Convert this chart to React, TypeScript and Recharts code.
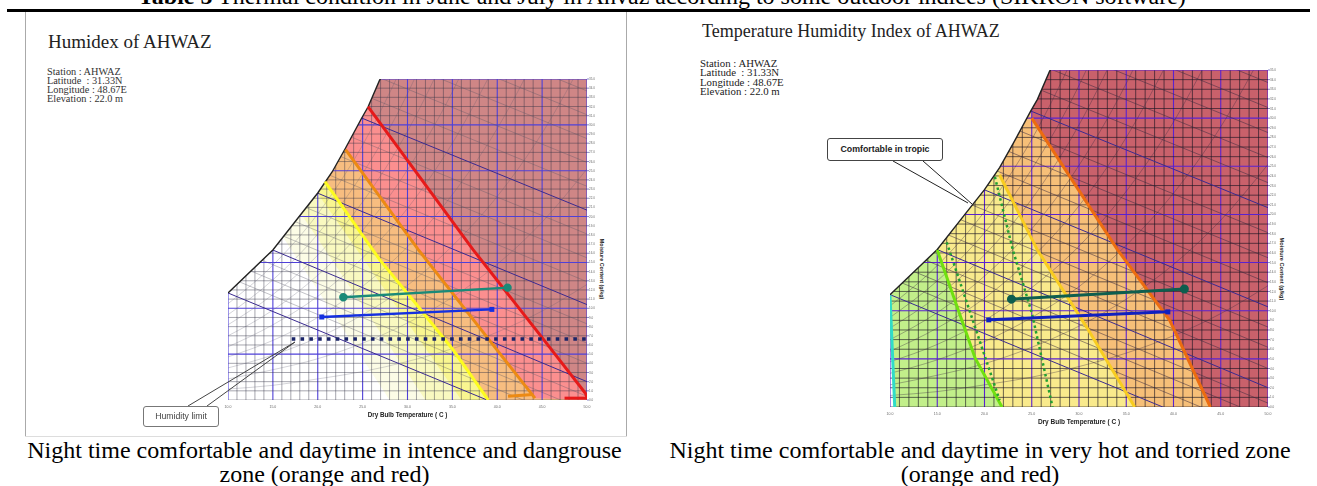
import { Area, ComposedChart, Line, XAxis, YAxis } from "recharts";

type Pt = { t: number; w: number };

const tempTicks = [10, 15, 20, 25, 30, 35, 40, 45, 50];
const moistureTicks = [
  0, 1, 2, 3, 4, 5, 6, 7, 8, 9, 10, 11, 12, 13, 14, 15, 16, 17, 18, 19, 20, 21, 22, 23, 24, 25, 26,
  27, 28, 29, 30, 31, 32, 33, 34, 35,
];
const tempGrid = [
  11, 12, 13, 14, 15, 16, 17, 18, 19, 20, 21, 22, 23, 24, 25, 26, 27, 28, 29, 30, 31, 32, 33, 34,
  35, 36, 37, 38, 39, 40, 41, 42, 43, 44, 45, 46, 47, 48, 49, 50,
];

// [temp, moisture]
const saturation: [number, number][] = [
  [10, 11.67], [15, 16.36], [17.8, 19.85], [20, 22.57], [21.6, 24.86],
  [23.1, 27.48], [24.9, 30.75], [25.6, 31.95], [26.9, 34.9], [27, 35],
];

// relative humidity curves, 10% to 90%, sampled at tempTicks
const rhCurves = [
  [1.2, 1.6, 2.3, 3.1, 4.2, 5.6, 7.4, 9.7, 12.6],
  [2.3, 3.3, 4.5, 6.2, 8.4, 11.2, 14.8, 19.4, 25.2],
  [3.5, 4.9, 6.8, 9.3, 12.5, 16.8, 22.2, 29.1, 37.8],
  [4.7, 6.5, 9, 12.4, 16.7, 22.4, 29.6, 38.8],
  [5.8, 8.2, 11.3, 15.5, 20.9, 28, 37],
  [7, 9.8, 13.6, 18.5, 25.1, 33.6, 44.4],
  [8.2, 11.5, 15.8, 21.6, 29.3, 39.2],
  [9.3, 13.1, 18.1, 24.7, 33.4, 44.8],
  [10.5, 14.7, 20.3, 27.8, 37.6],
];

// wet bulb lines: moisture at 10C and at 50C
const wetBulbMajor: [number, number][] = [
  [11.67, -4.5], [18.4, 2], [26.6, 10.4], [36.7, 20.7],
];
const wetBulbMinor: [number, number][] = [
  [13.4, -2.9], [15.1, -1.2], [16.8, 0.4],
  [20.4, 4], [22.5, 6.2], [24.5, 8.3],
  [29.1, 12.9], [31.6, 15.5], [34.2, 18.1],
  [39.3, 23.3], [41.9, 25.9], [44.5, 28.5], [47.1, 31.1], [49.7, 33.7],
];

const nightDayTeal: [number, number][] = [[22.85, 11.2], [41.15, 12.25]];
const nightDayBlue: [number, number][] = [[20.45, 9.05], [39.4, 9.88]];
const humidityLimit: [number, number][] = [[17.1, 6.65], [50, 6.65]];

// humidex zone boundaries
const hxPale1: [number, number][] = [[16.1, 17.8], [28, 0]];
const hxPale2: [number, number][] = [[18, 20.5], [32, 0]];
const hxPale3: [number, number][] = [[19.8, 22.8], [36, 0]];
const hxYellow: [number, number][] = [[20.8, 23.8], [26.9, 15.3], [30.6, 10.9], [35.1, 5.45], [39, 0]];
const hxOrange: [number, number][] = [[23.1, 27.3], [31.2, 16.4], [38.9, 6.8], [44.2, 0.2]];
const hxRed: [number, number][] = [[25.6, 32], [37.3, 16.4], [45, 6.8], [49.8, 0.76], [50, 0.3]];
const hxOrangeFoot: [number, number][] = [[41.2, 0.4], [44, 0.6]];
const hxRedFoot: [number, number][] = [[47.5, 0.2], [50, 0.2]];

// temperature humidity index boundaries
const thiCyan: [number, number][] = [[10, 11.6], [10.5, 0]];
const thiGreen: [number, number][] = [[15, 16.3], [19, 5.1], [21.85, 0]];
const thiDotted1: [number, number][] = [[16, 17.1], [19, 8.3], [21.6, 0.7]];
const thiDotted2: [number, number][] = [[21.1, 23.9], [23, 16.3], [25, 9.8], [27.2, 0]];
const thiGold: [number, number][] = [[21.6, 24.1], [25.6, 16.3], [30.8, 8.3], [35.9, 0]];
const thiOrange: [number, number][] = [[25, 30], [34.1, 16.3], [39.6, 9], [43.9, 0]];

const infoLines = ["Station : AHWAZ", "Latitude  : 31.33N", "Longitude : 48.67E", "Elevation : 22.0 m"];

const SERIF = '"Liberation Serif", serif';
const SANS = '"Liberation Sans", sans-serif';

const pts = (rows: [number, number][]): Pt[] => rows.map(([t, w]) => ({ t, w }));

function aboveLine(rows: [number, number][]) {
  const out = rows.map(([t, w]) => ({ t, band: [w, 35] }));
  out.push({ t: 50, band: [0, 35] });
  return out;
}

type Zone = { line: [number, number][]; fill: string };
type Edge = { line: [number, number][]; color: string; width: number; dash?: string };

type ChartProps = {
  left: number;
  top: number;
  plotW: number;
  plotH: number;
  zones: Zone[];
  edges: Edge[];
  limit?: boolean;
  major: string;
  minor: string;
  diag: string;
  diagOpacity: number;
  tealColor: string;
  blueColor: string;
  seriesWidth: number;
  axisFont: number;
};

function SquareDot({ cx, cy, fill }: any) {
  return <rect x={cx - 2.5} y={cy - 2.5} width={5} height={5} fill={fill} />;
}

function PsychroChart(p: ChartProps) {
  const wHoriz = moistureTicks.filter((m) => m < 35);
  return (
    <div style={{ position: "absolute", left: p.left, top: p.top, filter: "blur(0.45px)" }}>
      <ComposedChart
        width={6 + p.plotW + 30}
        height={6 + p.plotH + 20}
        margin={{ top: 6, left: 6, right: 0, bottom: 0 }}
      >
        <XAxis
          type="number"
          dataKey="t"
          domain={[10, 50]}
          ticks={tempTicks}
          interval={0}
          allowDataOverflow
          height={20}
          axisLine={false}
          tickLine={false}
          tickMargin={0}
          tickFormatter={(v: number) => v.toFixed(1)}
          tick={{ fontSize: 3.5, fill: "#666", fontFamily: SANS }}
          label={{
            value: "Dry Bulb Temperature ( C )",
            position: "insideBottom",
            offset: 3,
            style: { fontSize: p.axisFont, fontWeight: 700, fill: "#222", fontFamily: SANS },
          }}
        />
        <YAxis
          orientation="right"
          domain={[0, 35]}
          ticks={moistureTicks}
          interval={0}
          allowDataOverflow
          width={30}
          axisLine={false}
          tickSize={2}
          tickMargin={0}
          stroke="#8888cc"
          tickFormatter={(v: number) => v.toFixed(1)}
          tick={{ fontSize: 3, fill: "#666", fontFamily: SANS }}
        />

        {p.zones.map((z, i) => (
          <Area
            key={`zone-${i}`}
            data={aboveLine(z.line)}
            dataKey="band"
            type="linear"
            stroke="none"
            fill={z.fill}
            fillOpacity={1}
            dot={false}
            activeDot={false}
            isAnimationActive={false}
            zIndex={100 + i}
          />
        ))}

        {tempGrid.map((t) => (
          <Line
            key={`v-${t}`}
            data={pts([[t, 0], [t, 35]])}
            dataKey="w"
            stroke={t % 5 === 0 ? p.major : p.minor}
            strokeWidth={t % 5 === 0 ? 1.1 : 0.8}
            dot={false}
            activeDot={false}
            isAnimationActive={false}
            zIndex={200}
          />
        ))}
        {wHoriz.map((w) => (
          <Line
            key={`h-${w}`}
            data={pts([[10, w], [50, w]])}
            dataKey="w"
            stroke={w % 5 === 0 && w > 0 ? p.major : p.minor}
            strokeWidth={w % 5 === 0 && w > 0 ? 1.1 : 0.8}
            dot={false}
            activeDot={false}
            isAnimationActive={false}
            zIndex={200}
          />
        ))}

        {rhCurves.map((vals, i) => (
          <Line
            key={`rh-${i}`}
            data={vals.map((w, j) => ({ t: tempTicks[j], w }))}
            dataKey="w"
            type="monotone"
            stroke={p.diag}
            strokeOpacity={p.diagOpacity * 0.8}
            strokeWidth={0.7}
            dot={false}
            activeDot={false}
            isAnimationActive={false}
            zIndex={205}
          />
        ))}
        {wetBulbMinor.map(([a, b], i) => (
          <Line
            key={`wb-${i}`}
            data={pts([[10, a], [50, b]])}
            dataKey="w"
            stroke={p.diag}
            strokeOpacity={p.diagOpacity}
            strokeWidth={0.8}
            dot={false}
            activeDot={false}
            isAnimationActive={false}
            zIndex={206}
          />
        ))}
        {wetBulbMajor.map(([a, b], i) => (
          <Line
            key={`wbm-${i}`}
            data={pts([[10, a], [50, b]])}
            dataKey="w"
            stroke="#3a2a90"
            strokeWidth={1}
            dot={false}
            activeDot={false}
            isAnimationActive={false}
            zIndex={207}
          />
        ))}

        {/* white cover above the saturation curve trims the grid */}
        <Area
          data={saturation.map(([t, w]) => ({ t, band: [w, 35] }))}
          dataKey="band"
          type="linear"
          stroke="none"
          fill="#fff"
          fillOpacity={1}
          dot={false}
          activeDot={false}
          isAnimationActive={false}
          zIndex={300}
        />
        <Line
          data={pts([[10, 0], [10, 11.67]])}
          dataKey="w"
          stroke={p.major}
          strokeWidth={1.1}
          dot={false}
          activeDot={false}
          isAnimationActive={false}
          zIndex={305}
        />
        <Line
          data={pts([[27, 35], [50, 35]])}
          dataKey="w"
          stroke={p.major}
          strokeWidth={1.1}
          dot={false}
          activeDot={false}
          isAnimationActive={false}
          zIndex={305}
        />
        <Line
          data={pts(saturation)}
          dataKey="w"
          stroke="#222"
          strokeWidth={1.4}
          dot={false}
          activeDot={false}
          isAnimationActive={false}
          zIndex={310}
        />

        {p.edges.map((e, i) => (
          <Line
            key={`edge-${i}`}
            data={pts(e.line)}
            dataKey="w"
            stroke={e.color}
            strokeWidth={e.width}
            strokeDasharray={e.dash}
            dot={false}
            activeDot={false}
            isAnimationActive={false}
            zIndex={320}
          />
        ))}

        {p.limit && (
          <Line
            data={pts(humidityLimit)}
            dataKey="w"
            stroke="#1a2468"
            strokeWidth={3.4}
            strokeDasharray="3.6 5.2"
            dot={false}
            activeDot={false}
            isAnimationActive={false}
            zIndex={330}
          />
        )}
        <Line
          data={pts(nightDayTeal)}
          dataKey="w"
          stroke={p.tealColor}
          strokeWidth={p.seriesWidth}
          dot={{ r: 3, fill: p.tealColor, stroke: p.tealColor }}
          activeDot={false}
          isAnimationActive={false}
          zIndex={340}
        />
        <Line
          data={pts(nightDayBlue)}
          dataKey="w"
          stroke={p.blueColor}
          strokeWidth={p.seriesWidth}
          dot={(d: any) => <SquareDot key={d.index} cx={d.cx} cy={d.cy} fill={p.blueColor} />}
          activeDot={false}
          isAnimationActive={false}
          zIndex={340}
        />
      </ComposedChart>
    </div>
  );
}

function Txt(props: { x: number; y: number; size: number; children: any; bold?: boolean; w?: number; font?: string; color?: string }) {
  const { x, y, size, children, bold, w, font, color } = props;
  return (
    <div
      style={{
        position: "absolute",
        left: x,
        top: y,
        width: w,
        fontSize: size,
        lineHeight: 1,
        fontFamily: font ?? SERIF,
        fontWeight: bold ? 700 : 400,
        color: color ?? "#000",
        whiteSpace: "pre",
        textAlign: w ? "center" : "left",
      }}
    >
      {children}
    </div>
  );
}

const humidexZones: Zone[] = [
  { line: hxPale1, fill: "#fcfce6" },
  { line: hxPale2, fill: "#f9f9c0" },
  { line: hxPale3, fill: "#f9f690" },
  { line: hxYellow, fill: "#f7bd80" },
  { line: hxOrange, fill: "#fb8f8f" },
  { line: hxRed, fill: "#cf8686" },
];
const humidexEdges: Edge[] = [
  { line: hxYellow, color: "#fdfc20", width: 3 },
  { line: hxOrange, color: "#ec8a14", width: 3 },
  { line: hxRed, color: "#e61a1a", width: 3 },
  { line: hxOrangeFoot, color: "#ec8a14", width: 3 },
  { line: hxRedFoot, color: "#e61a1a", width: 3 },
];
const thiZones: Zone[] = [
  { line: thiCyan, fill: "#c2ef8a" },
  { line: thiGreen, fill: "#f9ea8c" },
  { line: thiGold, fill: "#f6bf78" },
  { line: thiOrange, fill: "#c9616b" },
];
const thiEdges: Edge[] = [
  { line: thiCyan, color: "#30dcc8", width: 3 },
  { line: thiGreen, color: "#70e010", width: 3 },
  { line: thiGold, color: "#f8cc20", width: 3 },
  { line: thiOrange, color: "#ec6c10", width: 3 },
  { line: thiDotted1, color: "#22a032", width: 2.5, dash: "2.5 3" },
  { line: thiDotted2, color: "#22a032", width: 2.5, dash: "2.5 3" },
];

export default function App() {
  return (
    <div style={{ position: "absolute", left: 0, top: 0, width: 1317, height: 486, overflow: "hidden", background: "#fff" }}>
      <Txt x={138} y={-16.5} size={24}>
        <b>Table 5</b> Thermal condition in June and July in Ahvaz according to some outdoor indices (SIKRON software)
      </Txt>
      <div style={{ position: "absolute", left: 7, top: 9, width: 1303, height: 3, background: "#000" }} />
      <div style={{ position: "absolute", left: 25, top: 12, width: 1, height: 425, background: "#aaa" }} />
      <div style={{ position: "absolute", left: 626, top: 12, width: 1, height: 425, background: "#aaa" }} />
      <div style={{ position: "absolute", left: 25, top: 436, width: 602, height: 1, background: "#ddd" }} />

      <Txt x={48} y={32} size={19} color="#222">Humidex of AHWAZ</Txt>
      {infoLines.map((l, i) => (
        <Txt key={l} x={47} y={66.5 + i * 9.2} size={10.3} color="#333">{l}</Txt>
      ))}

      <Txt x={702} y={22} size={18} color="#222">Temperature Humidity Index of AHWAZ</Txt>
      {infoLines.map((l, i) => (
        <Txt key={l} x={700} y={57.5 + i * 9.6} size={10.8} color="#222">{l}</Txt>
      ))}

      <PsychroChart
        left={222}
        top={73}
        plotW={359}
        plotH={321}
        zones={humidexZones}
        edges={humidexEdges}
        limit
        major="#4f40d8"
        minor="rgba(50,50,70,0.55)"
        diag="#555566"
        diagOpacity={0.45}
        tealColor="#1a8a78"
        blueColor="#1530e0"
        seriesWidth={2.4}
        axisFont={6.3}
      />
      <PsychroChart
        left={884}
        top={64}
        plotW={378}
        plotH={337}
        zones={thiZones}
        edges={thiEdges}
        major="#5a22d0"
        minor="rgba(25,20,35,0.8)"
        diag="#3a2a40"
        diagOpacity={0.65}
        tealColor="#0e5e4e"
        blueColor="#1020c0"
        seriesWidth={3}
        axisFont={6.5}
      />

      <svg width={1317} height={486} style={{ position: "absolute", left: 0, top: 0, pointerEvents: "none" }}>
        <polyline points="188,406 295,342 207,406" fill="none" stroke="#444" strokeWidth={1} />
        <polyline points="893,161 968,203" fill="none" stroke="#222" strokeWidth={1} />
        <polyline points="923,161 972,204" fill="none" stroke="#222" strokeWidth={1} />
        <text x={600} y={269} transform="rotate(90 600 269)" textAnchor="middle" fontSize={5.4} fontWeight={700} fontFamily={SANS} fill="#222">
          Moisture Content (g/kg)
        </text>
        <text x={1280} y={269} transform="rotate(90 1280 269)" textAnchor="middle" fontSize={5.6} fontWeight={700} fontFamily={SANS} fill="#222">
          Moisture Content (g/kg)
        </text>
      </svg>
      <div
        style={{
          position: "absolute", left: 143, top: 406, width: 76, height: 21, boxSizing: "border-box",
          border: "1px solid #777", borderRadius: 3, background: "#fff", textAlign: "center",
          font: `8.7px/19px ${SANS}`, color: "#444", filter: "blur(0.3px)",
        }}
      >
        Humidity limit
      </div>
      <div
        style={{
          position: "absolute", left: 827, top: 138, width: 116, height: 23, boxSizing: "border-box",
          border: "1px solid #444", borderRadius: 3, background: "#fff", textAlign: "center",
          font: `700 8.8px/21px ${SANS}`, color: "#222",
        }}
      >
        Comfortable in tropic
      </div>

      <Txt x={27} w={595} y={438} size={24}>Night time comfortable and daytime in intence and dangrouse</Txt>
      <Txt x={27} w={595} y={462} size={24}>zone (orange and red)</Txt>
      <Txt x={630} w={700} y={438} size={24}>Night time comfortable and daytime in very hot and torried zone</Txt>
      <Txt x={630} w={700} y={462} size={24}>(orange and red)</Txt>
    </div>
  );
}
